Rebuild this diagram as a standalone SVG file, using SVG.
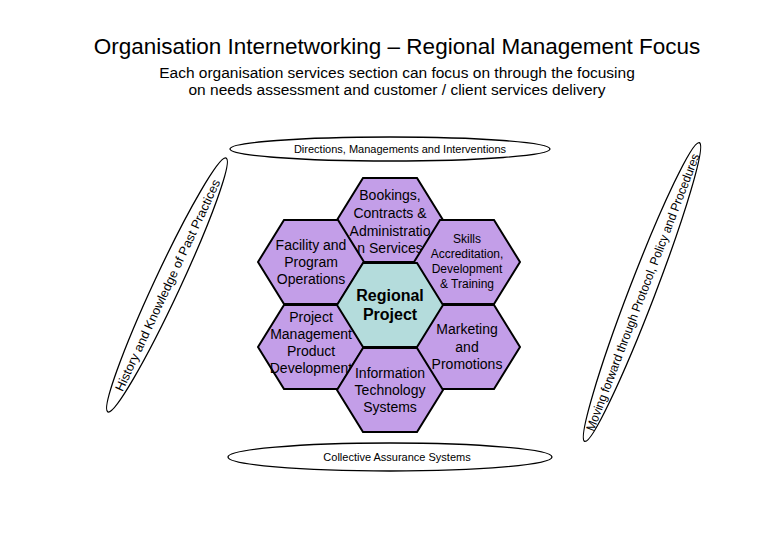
<svg xmlns="http://www.w3.org/2000/svg" width="780" height="540" viewBox="0 0 780 540">
<style>
text{font-family:"Liberation Sans",Arial,sans-serif;fill:#000}
.hex{fill:#c39ee8;stroke:#000;stroke-width:2}
.ctr{fill:#b4dcdc;stroke:#000;stroke-width:2}
.el{fill:#fff;stroke:#000;stroke-width:1.3}
.h{font-size:14px;text-anchor:middle}
.s{font-size:12px;text-anchor:middle}
.e{font-size:11px;text-anchor:middle}
.r{font-size:12.5px;text-anchor:middle}
</style>
<defs>
<polygon id="hx" points="-53,0 -27,-42 27,-42 53,0 27,42 -27,42"/>
</defs>
<rect width="780" height="540" fill="#fff"/>
<text x="397" y="54" font-size="22.5" text-anchor="middle">Organisation Internetworking – Regional Management Focus</text>
<text x="397" y="78" font-size="15.5" text-anchor="middle">Each organisation services section can focus on through the focusing</text>
<text x="397" y="95" font-size="15.5" text-anchor="middle">on needs assessment and customer / client services delivery</text>
<g id="top-ellipse"><ellipse class="el" cx="390" cy="149" rx="160" ry="12"/><text class="e" x="400" y="153">Directions, Managements and Interventions</text></g>
<g id="bottom-ellipse"><ellipse class="el" cx="390" cy="457" rx="162" ry="14"/><text class="e" x="397" y="461">Collective Assurance Systems</text></g>
<g id="left-ellipse" transform="translate(167,285) rotate(-65)"><ellipse class="el" rx="140" ry="13"/><text class="r" x="0" y="5" textLength="232" lengthAdjust="spacingAndGlyphs">History and Knowledge of Past Practices</text></g>
<g id="right-ellipse" transform="translate(642,292) rotate(-69)"><ellipse class="el" rx="160" ry="13"/><text class="r" x="0" y="5" textLength="296" lengthAdjust="spacingAndGlyphs">Moving forward through Protocol, Policy  and Procedures</text></g>
<g id="hex-top" transform="translate(390,220)"><use href="#hx" class="hex"/>
<text class="h" y="-20">Bookings,</text><text class="h" y="-2">Contracts &amp;</text><text class="h" y="16">Administratio</text><text class="h" y="33">n Services</text></g>
<g id="hex-ul" transform="translate(311,262)"><use href="#hx" class="hex"/>
<text class="h" y="-12">Facility and</text><text class="h" y="5">Program</text><text class="h" y="22">Operations</text></g>
<g id="hex-ur" transform="translate(467,262)"><use href="#hx" class="hex"/>
<text class="s" y="-19">Skills</text><text class="s" y="-4">Accreditation,</text><text class="s" y="11">Development</text><text class="s" y="26">&amp; Training</text></g>
<g id="hex-ll" transform="translate(311,347)"><use href="#hx" class="hex"/>
<text class="h" y="-25">Project</text><text class="h" y="-8">Management</text><text class="h" y="9">Product</text><text class="h" y="26">Development</text></g>
<g id="hex-lr" transform="translate(467,347)"><use href="#hx" class="hex"/>
<text class="h" y="-13">Marketing</text><text class="h" y="5">and</text><text class="h" y="22">Promotions</text></g>
<g id="hex-bottom" transform="translate(390,390)"><use href="#hx" class="hex"/>
<text class="h" y="-12">Information</text><text class="h" y="5">Technology</text><text class="h" y="22">Systems</text></g>
<g id="hex-center" transform="translate(390,305)"><use href="#hx" class="ctr"/>
<text x="0" y="-4" font-size="16" font-weight="bold" text-anchor="middle">Regional</text><text x="0" y="15" font-size="16" font-weight="bold" text-anchor="middle">Project</text></g>
<g id="connectors"/>
</svg>
